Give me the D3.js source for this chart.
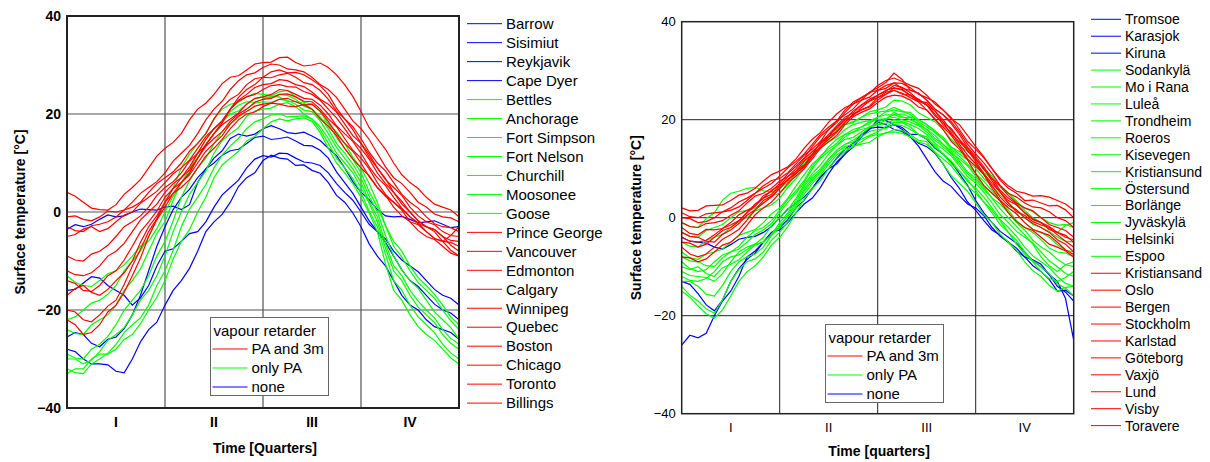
<!DOCTYPE html>
<html>
<head>
<meta charset="utf-8">
<script src="https://cdn.jsdelivr.net/npm/d3@7"></script>
<style>
  body { margin: 0; background: #fff; }
  text { font-family: "Liberation Sans", Arial, sans-serif; fill: #000; }
</style>
</head>
<body>
<div id="chart"></div>
<script>
// x positions of the readings, in months (0 = 1 Jan, 12 = 31 Dec)
const months = [0, 0.25, 0.5, 0.75, 1, 1.25, 1.5, 1.75, 2, 2.25, 2.5, 2.75, 3, 3.25, 3.5, 3.75, 4, 4.25, 4.5, 4.75,
  5, 5.25, 5.5, 5.75, 6, 6.25, 6.5, 6.75, 7, 7.25, 7.5, 7.75, 8, 8.25, 8.5, 8.75, 9, 9.25, 9.5, 9.75,
  10, 10.25, 10.5, 10.75, 11, 11.25, 11.5, 11.75, 12];
const quarterLabels = ["I", "II", "III", "IV"];
const yTicks = [40, 20, 0, -20, -40];
const retarderGroups = ["PA and 3m", "only PA", "none"];

// ---------- North America / Greenland / Iceland ----------
const leftStations = ["Barrow", "Sisimiut", "Reykjavik", "Cape Dyer", "Bettles", "Anchorage", "Fort Simpson",
  "Fort Nelson", "Churchill", "Moosonee", "Goose", "Prince George", "Vancouver", "Edmonton", "Calgary",
  "Winnipeg", "Quebec", "Boston", "Chicago", "Toronto", "Billings"];
const leftGroups = ["none", "none", "none", "none", "only PA", "only PA", "only PA", "only PA", "only PA",
  "only PA", "only PA", "PA and 3m", "PA and 3m", "PA and 3m", "PA and 3m", "PA and 3m", "PA and 3m",
  "PA and 3m", "PA and 3m", "PA and 3m", "PA and 3m"];
const leftValues = [
  [-28,-28.5,-30,-31,-31,-31.2,-32.5,-32.8,-30,-26.5,-24,-22.5,-19,-16,-14,-11.5,-8,-4,-2,-0.5,2,5.2,7,8,10.5,11.6,11,10.8,9.5,9.6,8.5,7.9,6,3.4,2,-0.2,-3,-6.5,-9,-11,-14,-17,-19,-20,-22,-23.4,-24,-24.6,-26],
  [-16,-15.8,-14.5,-13.2,-13.5,-15,-16,-17,-19,-17.5,-15,-11,-8,-7.5,-6,-4.4,-4,-2,1,3.5,5,6.5,9,10.8,11.5,11.2,12,11.9,11,10.2,10,9.5,8,5.8,4,2.4,0,-2.5,-4,-5.5,-8,-9.8,-11,-12.2,-14,-15.8,-17,-17.6,-19],
  [-3.5,-2.6,-3,-2.5,-1.5,-0.6,-1,-0.8,0,0.6,0.5,0.4,1,1.2,0.5,1.5,6,8.8,11,12.5,15,15.9,15.5,15.9,17,17.6,17,16.2,16,16.3,15.5,14.6,13,11.5,9,6.2,4,2.5,0.5,-0.8,-1,-0.9,-1.5,-2.2,-2,-1.8,-2.5,-3.2,-3],
  [-25.5,-24.6,-25,-26.8,-27.5,-26,-25.5,-23.8,-21,-17,-12,-7,-3,0.5,3,4.6,7,8.8,10,11.6,12.5,12.8,14,15.2,15.5,14.8,15,15.3,14.5,13.6,13.5,12.6,11,8.2,6,3.8,1,-1.8,-4,-6.2,-9,-11.8,-14,-15.2,-17,-18.8,-20,-20.6,-22],
  [-22,-21.4,-20,-18.6,-18,-16.8,-15,-12,-10,-8,-5,-1.5,2,5,9,11.8,14,16,19,21,22,22.4,23.5,24.2,24,23.7,24.5,24.8,23.5,22.4,22,20.5,18,15.2,13,10.8,8,4.2,1,-2.8,-6,-8,-11,-13.4,-15,-16.8,-19,-21.4,-23],
  [-13,-14.4,-15,-15.2,-14,-12.6,-12,-10.8,-9,-7,-6,-3.4,0,3.2,6,8.6,12,14.8,17,18.4,20.5,21.8,22.5,22.4,23,23.6,23.5,22.6,22.5,22.2,21,19.2,18,16.4,14,11.2,9,5.8,2,-2.8,-7,-9.2,-12,-14.4,-16,-17.6,-20,-22.2,-24],
  [-24,-24.8,-25,-23,-22,-21,-19,-16,-14,-11.6,-8,-4.4,-2,2.4,6,8,11,13.8,16,18.4,20,20.6,22,23.1,23.5,23.4,24,23.8,23,21.6,21,19.4,17,14,12,9.8,7,3.2,0,-4.8,-9,-11.8,-14,-15.6,-18,-20.4,-22,-23.6,-26],
  [-29,-29.8,-30,-28,-27,-25.4,-23,-20,-18,-16,-13,-9,-6,-1.8,3,6.4,9,11,14,16.4,18,19.2,21,22.2,22.5,22.4,23,22.8,22,20.8,20.5,18.6,16,13.2,11,8.8,6,2.2,-1,-6.4,-11,-13,-16,-18.2,-20,-21.6,-24,-25.8,-27],
  [-30,-30,-31,-30.2,-28.5,-26.2,-25,-23.6,-21,-18,-16,-13,-9,-4,0,3.6,6,8.4,12,14.6,16,17.2,19.5,20.6,21,21.2,22,22.3,21.5,20,19,17.4,15,12,10,8,5,1.8,-2,-7.4,-12,-14,-17,-19.4,-21,-22.6,-25,-26.8,-28],
  [-32,-32.8,-33,-31,-30,-28.8,-27,-24.6,-23,-21.6,-19,-15,-12,-7.8,-3,0.6,3,5.6,9,11.6,13.5,15,17,18.4,19,19.8,20,19.4,19.5,19.6,19,16.8,14,11,9,6.8,4,0.2,-3,-8.6,-14,-16,-19,-21.4,-23,-24.6,-27,-28.8,-30],
  [-33,-32,-32,-30,-29,-29,-28,-26,-25,-22.8,-20,-17.4,-14,-9.6,-6,-3.6,0,3,7,9.6,11,12.4,14.5,15.4,17,18.4,19,18.6,19,19.2,18.5,16.2,13,10,8,5.8,3,-0.2,-4,-10.6,-16,-18,-21,-23.4,-25,-26.2,-28,-29.8,-31],
  [4,3.2,2,0.8,0.5,0.4,1.5,3.6,5,6.6,9,11.4,13,14.2,16,18.8,21,22.2,24,26.2,27.5,27.8,29,30.2,30.5,30.6,31.5,31.6,30.5,29.8,30,30.4,29.5,28,26,23.6,20.5,17.2,15,12.8,10,7.6,6,4.8,3,1.6,1,0.4,-1],
  [-1,-0.8,-1.5,-1.8,-1,0.2,0,0.4,2,3.8,5,6.2,8,10.4,12,13.6,16,18.8,21,22.6,25,26.8,28,28.4,29.5,30.2,30,29.2,29,28.6,27.5,26,25,23.4,21,18.6,17,14.8,12,9.2,7,5.8,4,2,1,-0.4,-1,-1.2,-2],
  [-3,-3.8,-4,-2.8,-2.5,-2,-1,0.4,1,2,4,5.8,7,8.2,10,12.4,14,16,19,21.4,23,24,26,27.2,27.5,27.4,28,28.3,27.5,26.4,26,24.8,23,20.6,19,17.4,15,12.2,10,8.4,6,3.6,2,0.8,-1,-2.4,-3,-3.2,-4],
  [-5,-4.6,-3.5,-3,-4,-3.4,-2,-0.6,0,1.8,3,4.2,6,7.8,9,10.6,13,15.4,17,18.6,21,22.8,24,25.4,26,26.2,27,26.8,26,25.6,24.5,23,22,20.4,18,15.6,14,11.8,9,6.6,5,3.4,1,-0.8,-2,-2.6,-4,-4.8,-5],
  [-9,-9.8,-10,-8.6,-8,-6.8,-5,-3,-2,-0.8,1,3.4,5,6.2,8,10.4,12,13.6,16,17.8,19,20.2,22,23.2,23.5,24,25,24.8,24,23.2,23,21.8,20,17.6,16,14.4,12,9.2,7,5.4,3,0.8,-1,-2.2,-4,-5.4,-6,-6.2,-7],
  [-12,-12.8,-13,-12.4,-11,-9,-8,-6.4,-4,-1.6,0,1.6,4,5.8,7,8.6,11,13.4,15,16.4,18.5,20,21,22.4,23,23.2,24,24.1,23.5,22.6,22.5,21,19,17.4,15,12.6,11,8.8,6,3.6,2,0.4,-2,-3.8,-5,-5.6,-7,-8.4,-9],
  [-14,-14.6,-16,-16.2,-15,-13,-12,-9.8,-7,-4,-2,0.2,3,4.8,6,7.6,10,12.4,14,15.6,18,19.6,20.5,21.6,22,22.2,23,23.2,22.5,21.8,22,20.6,18.5,16,14,12.4,10,7.2,5,3.4,1,-0.8,-2,-2.6,-4,-5.4,-6,-4.8,-3],
  [-17,-15.6,-15,-16.4,-17,-15.8,-14,-12.4,-10,-6.2,-3,-0.8,2,3.8,5,6.6,9,11.4,13,14.8,17,18.8,20,20.4,21.5,22.2,22,21.6,21.5,21.9,21,19,17.5,15.6,13,10.8,9,7.4,5,3.2,2,0.6,-1,-2.4,-3,-3.6,-5,-5.8,-6],
  [-20,-20.4,-22,-22.4,-21,-19.2,-18,-14.8,-11,-7.6,-4,-1.4,2,4.8,7,9.2,12,14.8,17,18.6,21,22.6,23.5,24,25,25.8,26,25.6,25.5,24.6,24,22.8,21,19.2,17,14.6,13,10.8,8,5.8,4,2.2,0,-1.8,-3,-3.6,-5,-6.8,-8],
  [-22,-23,-25,-24.6,-23,-20.4,-19,-16.4,-13,-9.4,-5,-1.6,1,3.8,6,8,11,13.8,16,18.2,21,23.4,25,26,27.5,28.6,29,28.4,28.5,28,27,25.8,24,21.2,19,16.8,14,11.2,9,6.8,4,1.6,0,-1.8,-3,-4,-6,-7.8,-9]
];

// ---------- Scandinavia / Finland / Estonia ----------
const rightStations = ["Tromsoe", "Karasjok", "Kiruna", "Sodankylä", "Mo i Rana", "Luleå", "Trondheim", "Roeros",
  "Kisevegen", "Kristiansund", "Östersund", "Borlänge", "Jyväskylä", "Helsinki", "Espoo", "Kristiansand", "Oslo",
  "Bergen", "Stockholm", "Karlstad", "Göteborg", "Vaxjö", "Lund", "Visby", "Toravere"];
const rightGroups = ["none", "none", "none", "only PA", "only PA", "only PA", "only PA", "only PA", "only PA",
  "only PA", "only PA", "only PA", "only PA", "only PA", "only PA", "PA and 3m", "PA and 3m", "PA and 3m",
  "PA and 3m", "PA and 3m", "PA and 3m", "PA and 3m", "PA and 3m", "PA and 3m", "PA and 3m"];
const rightValues = [
  [-4,-4.8,-5,-5.2,-6,-6.4,-5.5,-4.4,-4,-3.8,-3,-1.8,0,1.8,3,4.2,6,8.2,10,12.2,14,15.2,17,18.2,18.5,18.4,19,18,16.5,14.6,12,9.4,7.5,6.4,4.5,2.8,2,0.4,-2,-3.8,-5,-6.2,-8,-9.8,-11,-12.6,-15,-14.8,-16],
  [-13,-13.6,-15.5,-17.8,-19,-16.8,-13,-10.4,-8.5,-7.2,-5,-3,-2,-0.4,2,3.6,6,8.4,10,11,13,15.2,16.5,18,20,19.8,19,18.4,17,17,16,14.2,13,11.4,9,6.6,3.5,1,-1,-2.8,-4,-5.2,-7,-8.8,-10,-11.6,-14,-15.2,-17],
  [-26,-24,-24.5,-23.6,-20,-17,-15,-12,-8,-6.8,-5,-3,-2.5,-1,1,2.8,4,6.2,9,11.4,13,14.4,16.5,18.2,19.5,19,18,17.6,16.5,15.2,14.5,13.2,11,8.2,6,3.2,1.5,-0.6,-2.5,-3.6,-5,-6.8,-8,-8.6,-9.5,-11.6,-13,-16.5,-25],
  [-1,-1.8,-2,-0.2,1,3.6,5,5.4,6,6.2,5.5,5.2,6,7.2,9,11.4,13,14.2,16,17.8,19,19.6,20.5,21.2,21.5,21.8,22.5,21.8,21,19.6,18.5,17.4,16,14.4,13.5,12.6,11,9.2,8,6.6,5,3.2,2,1.2,0,-1,-1.5,-1.4,-2],
  [-5,-5.8,-6,-4.6,-4,-3.4,-2,-0.6,0,1.4,2,2.6,4,6.2,8,10,12.5,14.2,15.5,16.4,18,19,19.5,19.8,20.5,21,21,20.4,20.5,20,19,17.6,16.5,14.4,13,11.8,10,8,6.5,4.6,3,1.6,0,-1.4,-2,-2.8,-4,-4.8,-5],
  [-7,-8.2,-8.5,-7.4,-7,-6.4,-5,-3.6,-3,-2.4,-1,0.8,2,4,6.5,8.8,11,12.4,14.5,16,17,17.4,18.5,19.6,20,20.2,21,21.2,20.5,19,18,16.8,15,13.2,12,10.6,8.5,6.4,5,3.6,1.5,-0.6,-2,-3,-4.5,-6.2,-7,-7.2,-8],
  [-9,-10.4,-11,-10.6,-9,-7.6,-7,-6.4,-5,-3.4,-2.5,-1.2,1,3.2,5,7.2,10,12.2,13.5,14.8,16.5,17.6,18,18.4,19.5,20.2,20.5,20,19.5,18.8,17.5,15.8,14.5,13,11,9,7.5,5.8,4,2.8,1,-1,-2.5,-4.6,-6,-7,-8.5,-9.6,-10],
  [-11,-11.8,-12,-12.2,-13,-11.4,-9,-7,-6,-5.4,-4,-1.6,0,1.6,4,6.8,9,10.8,13,14.8,16,16.4,17.5,18.6,19,19.2,20,19.6,19,18.2,17,15.2,14,12.6,10.5,8.4,7,5.2,3,0.6,-1,-2.8,-4,-5.2,-7,-8.8,-10,-11.4,-12],
  [-13,-13,-14,-15.6,-16,-13.8,-11,-9,-8,-7.4,-6,-3.6,-2,0.6,3,5.8,8,9.6,12,13.8,15,15.4,16.5,17.6,18,18.2,19,18.8,18,17,16.5,14.4,13,11.6,9.5,7.4,6,4.2,2,-0.4,-2,-3.8,-6,-7.8,-9,-10.2,-12,-13.4,-14],
  [-14,-15.8,-17,-18.6,-19.5,-16.8,-13,-10.6,-9,-8.4,-7,-4.6,-3,-0.8,2,4.8,7,8.6,11,12.8,14,14.4,15.5,16.6,17,17.2,18,17.8,17,15.8,15.5,13.4,12,10.6,8.5,6.4,5,3.2,1,-1.4,-3,-4.6,-7,-8.8,-10,-11.4,-13.5,-14.4,-16],
  [-15,-16.2,-18,-19.6,-20.5,-18.8,-16,-13,-11,-9.8,-8,-5.6,-4,-1.8,1,3.8,6,7.6,10,12,13.5,14.6,15,15.4,16.5,17.4,17.5,17.2,16.5,15.4,15,13.4,11,8.6,7,5.4,3,0.6,-1,-3.4,-5,-6.6,-9,-10.8,-12,-13.8,-15,-14.2,-14],
  [-3,-3.8,-4,-2.6,-2,-1.4,0,1.2,1.5,2,3,4.4,5,6.6,9,11.4,13,14.2,16,17.8,19,19.4,20.5,21.6,22,22.6,24,23.8,23,21.4,20.5,19.6,18,16,14.5,13.6,12,10,8.5,6.4,5,3.4,1.5,0,-1,-2.4,-3,-1.6,-1],
  [-8,-8.8,-9,-9.8,-10,-8.2,-7,-5.8,-4,-2.6,-2,-0.6,1.5,3.8,5.5,7.6,10.5,12.6,14,15.2,17,18,18.5,19.2,20.5,21.6,22,21.6,21.5,20,19,17.8,16,14,12.5,11,9,7.4,5.5,3.4,2,0.8,-1,-2.4,-3,-4,-5.5,-6.6,-7],
  [-10,-10.6,-10,-11.4,-12,-10.2,-9.5,-8.6,-7,-5.6,-5,-3.4,-1,1,3.5,6.4,8.5,10,12,13.8,15,15.8,17,18.4,19,20,21.5,20.6,20,19.2,18,16.2,15,13.6,11.5,9.4,8,6.2,4,1.8,0,-1.8,-3.5,-5.4,-8,-9.8,-11,-9.6,-9],
  [-12,-12.8,-13,-12.4,-11,-9,-8,-7.6,-6.5,-5.4,-5,-3.6,-1.5,0.2,2.5,5.4,7.5,9.2,11.5,13.4,14.5,15,16,16.8,17.5,18.6,19.5,19.4,18.5,17,16,14.8,13,11,9.5,7.8,5.5,3.2,1.5,-0.6,-3,-5.4,-7.5,-9,-11,-12.4,-13,-12.2,-11],
  [1,0.2,0,0.8,1,1.2,2,3.2,4,5,6.5,7.6,8,9.2,11,12.8,14,15.6,18,19.8,21,22.2,24,25.6,26.5,27.6,29.5,28.2,26,25.4,24,22.2,21,19.6,17.5,15,13,11.2,9,6.6,5,4.2,3,2.2,2,1.2,0,-0.6,-2],
  [2,1.4,1.5,2.4,2.5,2.6,3.5,4.6,5,6,7.5,8.8,9.5,10.4,12,14.2,16,17.4,19.5,21.2,22.5,23.2,24.5,25.6,26,26.4,27.5,27.4,26.5,25.2,24.5,23.6,22,20.2,19,16.8,14.5,12.4,10,8,6.5,5.4,5,4.4,4.5,4.2,3.5,2.8,1.5],
  [-1,-1.8,-2,-1.2,-1,-0.6,0.5,1.4,3,4.4,5,6,7.5,8.4,10,12,13.5,15,17,18.8,20.5,21.4,23,24.2,25,25.8,27,26.6,25.5,24,23,21.8,20,17.8,16,14.2,12,9.8,8,6.4,4.5,3,2,1.4,0,-1.4,-2,-2.6,-4],
  [-2,-3.2,-3.5,-2.4,-2.5,-2.2,-1,0.6,1.5,2.4,4,5.6,6.5,7.6,9.5,11.6,13,14.4,16.5,18.6,20,20.8,22.5,23.8,24.5,25.2,26.5,26.2,25,23.8,23.5,21.8,19.5,17,15.5,13.8,11.5,9,7,5.2,3,1.2,0.5,-0.8,-1.5,-2,-3.5,-4.8,-6],
  [-3,-3.8,-4,-4.8,-5,-3.4,-2.5,-1.2,0.5,1.6,3.5,4.4,6,7.8,9,10.4,12.5,14.6,16,17.4,19.5,21,22,22.6,24,25.2,26,25.4,24.5,23.6,22,20,18.5,16.8,14.5,12,10.5,8.8,6.5,4.2,2.5,1.6,0,-1.2,-2,-3,-4.5,-5.4,-7],
  [-5,-5.2,-6,-5.4,-4,-2.6,-2,-0.8,1,2.4,4.5,5.4,7,9,10.5,12.2,14.5,16.6,18,19.4,21.5,23.2,24,24.6,26,27,27.5,26.4,26,25.4,24,22.2,21,19.2,17,14.4,12.5,10.4,8,5.6,4,2.8,1,-0.2,-1,-2.4,-3,-3.6,-5],
  [-6,-7.4,-8,-7.4,-6,-4.4,-3.5,-2.4,-0.5,1.6,3,4.2,6,7.8,9,10.6,13,15.4,17,18.2,20,21.8,23,23.8,25,26,26.5,26,25,23.8,23,21.2,19,17.4,15,12.8,11,8.8,6,3.6,2,0.8,-1,-2.4,-3,-3.6,-5,-6.6,-7.5],
  [-8,-8.2,-9,-8.4,-7,-5.6,-5,-3.6,-1.5,0.6,2,3.2,5,7,8.5,10,12,14.2,15.5,16.8,19,20.6,21.5,22.2,23.5,24.6,25,24.8,24,22.6,22,20.2,18,15.6,14,11.8,9,6.6,5,3.4,1,-0.8,-2,-2.6,-4,-5.4,-6,-6.8,-8],
  [0,-0.2,-1,-0.8,0,1.2,1.5,2.2,3.5,5,6,7,8.5,10.2,11.5,13,15,17,18.5,19.8,22,23.6,24.5,25.4,27,28,28.5,27.8,27,26.4,25,23.2,22,20.4,18,15.6,14,12.2,10,7.6,6,5,3.5,3.6,3,2.4,2.5,1.6,0],
  [-4,-4.8,-5,-4.6,-3.5,-2.2,-1.5,-0.6,1,2.8,4,4.8,6.5,8.4,9.5,10.8,13,15.2,16.5,17.6,19.5,21.2,22,22.8,24.5,25.6,26,25.2,25,24.2,23,20.8,19.5,18.2,16,13.6,12,10,7.5,5.2,3.5,2.6,1,-0.4,-1,-1.8,-3,-4,-4.5]
];

const groupColor = d3.scaleOrdinal().domain(retarderGroups).range(["#ff0000", "#00ff00", "#0000ff"]);

const svg = d3.select("#chart").append("svg").attr("width", 1210).attr("height", 462);

function drawChart(o) {
  const g = svg.append("g");
  const x = d3.scaleLinear().domain([0, 12]).range([o.x0, o.x1]);
  const y = d3.scaleLinear().domain([-40, 40]).range([o.y1, o.y0]);
  const q = d3.scaleBand().domain(quarterLabels).range([o.x0, o.x1]);

  // grid
  g.selectAll(".vgrid").data([3, 6, 9]).enter().append("line")
    .attr("x1", (d) => x(d)).attr("x2", (d) => x(d))
    .attr("y1", o.y0).attr("y2", o.y1)
    .attr("stroke", o.vGridColor).attr("stroke-width", o.vGridWidth);
  g.selectAll(".hgrid").data([20, 0, -20]).enter().append("line")
    .attr("x1", o.x0).attr("x2", o.x1)
    .attr("y1", (d) => y(d)).attr("y2", (d) => y(d))
    .attr("stroke", o.hGridColor).attr("stroke-width", o.hGridWidth);

  // series
  g.append("clipPath").attr("id", o.id).append("rect")
    .attr("x", o.x0).attr("y", o.y0).attr("width", o.x1 - o.x0).attr("height", o.y1 - o.y0);
  const line = d3.line().x((d, i) => x(months[i])).y((d) => y(d));
  g.append("g").attr("clip-path", "url(#" + o.id + ")")
    .selectAll("path").data(o.values).enter().append("path")
    .attr("d", line)
    .attr("fill", "none")
    .attr("stroke", (d, i) => groupColor(o.groups[i]))
    .attr("stroke-width", 1.2);

  // frame
  g.append("rect").attr("x", o.x0).attr("y", o.y0)
    .attr("width", o.x1 - o.x0).attr("height", o.y1 - o.y0)
    .attr("fill", "none").attr("stroke", "#222").attr("stroke-width", o.frameWidth);

  // axes
  const yAxis = g.append("g").attr("transform", "translate(" + o.x0 + ",0)")
    .call(d3.axisLeft(y).tickValues(yTicks).tickSize(0).tickPadding(6));
  yAxis.select(".domain").remove();
  yAxis.selectAll("text").style("font-size", o.tickSize + "px").style("font-weight", o.tickWeight)
    .style("font-family", "'Liberation Sans', Arial, sans-serif").attr("fill", "#000");

  const xAxis = g.append("g").attr("transform", "translate(0," + o.y1 + ")")
    .call(d3.axisBottom(q).tickSize(0).tickPadding(9));
  xAxis.select(".domain").remove();
  xAxis.selectAll("text").style("font-size", o.tickSize + "px").style("font-weight", o.tickWeight)
    .style("font-family", "'Liberation Sans', Arial, sans-serif").attr("fill", "#000");

  g.append("text").attr("transform", "translate(" + o.yTitleX + "," + (o.y0 + o.y1) / 2 + ") rotate(-90)")
    .attr("text-anchor", "middle").attr("dy", "0.35em")
    .style("font-size", "14px").style("font-weight", "bold")
    .text("Surface temperature [°C]");
  g.append("text").attr("x", o.xTitleX).attr("y", o.xTitleY)
    .attr("text-anchor", "middle").attr("dy", "0.35em")
    .style("font-size", "14px").style("font-weight", "bold")
    .text(o.xTitle);

  // inner legend (vapour retarder)
  const lg = g.append("g").attr("transform", "translate(" + o.legX + "," + o.legY + ")");
  lg.append("rect").attr("width", 118).attr("height", 78)
    .attr("fill", "#fff").attr("stroke", "#666").attr("stroke-width", 1);
  lg.append("text").attr("x", 3).attr("y", 13).attr("dy", "0.35em")
    .style("font-size", "15px").text("vapour retarder");
  retarderGroups.forEach((k, i) => {
    const yy = 31.5 + i * 19;
    lg.append("line").attr("x1", 2).attr("x2", 37).attr("y1", yy).attr("y2", yy)
      .attr("stroke", groupColor(k)).attr("stroke-width", 1);
    lg.append("text").attr("x", 41).attr("y", yy).attr("dy", "0.35em")
      .style("font-size", "15px").text(k);
  });

  // station legend
  const sl = g.append("g");
  o.stations.forEach((s, i) => {
    const yy = o.slY + i * o.slStep;
    sl.append("line").attr("x1", o.slX).attr("x2", o.slX + o.slLen).attr("y1", yy).attr("y2", yy)
      .attr("stroke", groupColor(o.groups[i])).attr("stroke-width", 1);
    sl.append("text").attr("x", o.slX + o.slLen + 4).attr("y", yy).attr("dy", "0.35em")
      .style("font-size", o.slFont + "px").text(s);
  });
}

drawChart({
  id: "clipLeft", x0: 67, x1: 459, y0: 16, y1: 408,
  values: leftValues, groups: leftGroups, stations: leftStations,
  vGridColor: "#8c8c8c", vGridWidth: 1.8, hGridColor: "#555", hGridWidth: 1.2, frameWidth: 2,
  tickSize: 14, tickWeight: "bold",
  yTitleX: 20, xTitleX: 265, xTitleY: 448, xTitle: "Time [Quarters]",
  legX: 210.5, legY: 317.5,
  slX: 467, slLen: 35, slY: 23.7, slStep: 18.97, slFont: 15
});

drawChart({
  id: "clipRight", x0: 681.7, x1: 1073.7, y0: 21.7, y1: 413.7,
  values: rightValues, groups: rightGroups, stations: rightStations,
  vGridColor: "#222", vGridWidth: 1, hGridColor: "#222", hGridWidth: 1, frameWidth: 1.5,
  tickSize: 13, tickWeight: "normal",
  yTitleX: 636, xTitleX: 879, xTitleY: 451, xTitle: "Time [quarters]",
  legX: 825.5, legY: 324.5,
  slX: 1091, slLen: 30, slY: 19.3, slStep: 16.93, slFont: 14
});
</script>
</body>
</html>
